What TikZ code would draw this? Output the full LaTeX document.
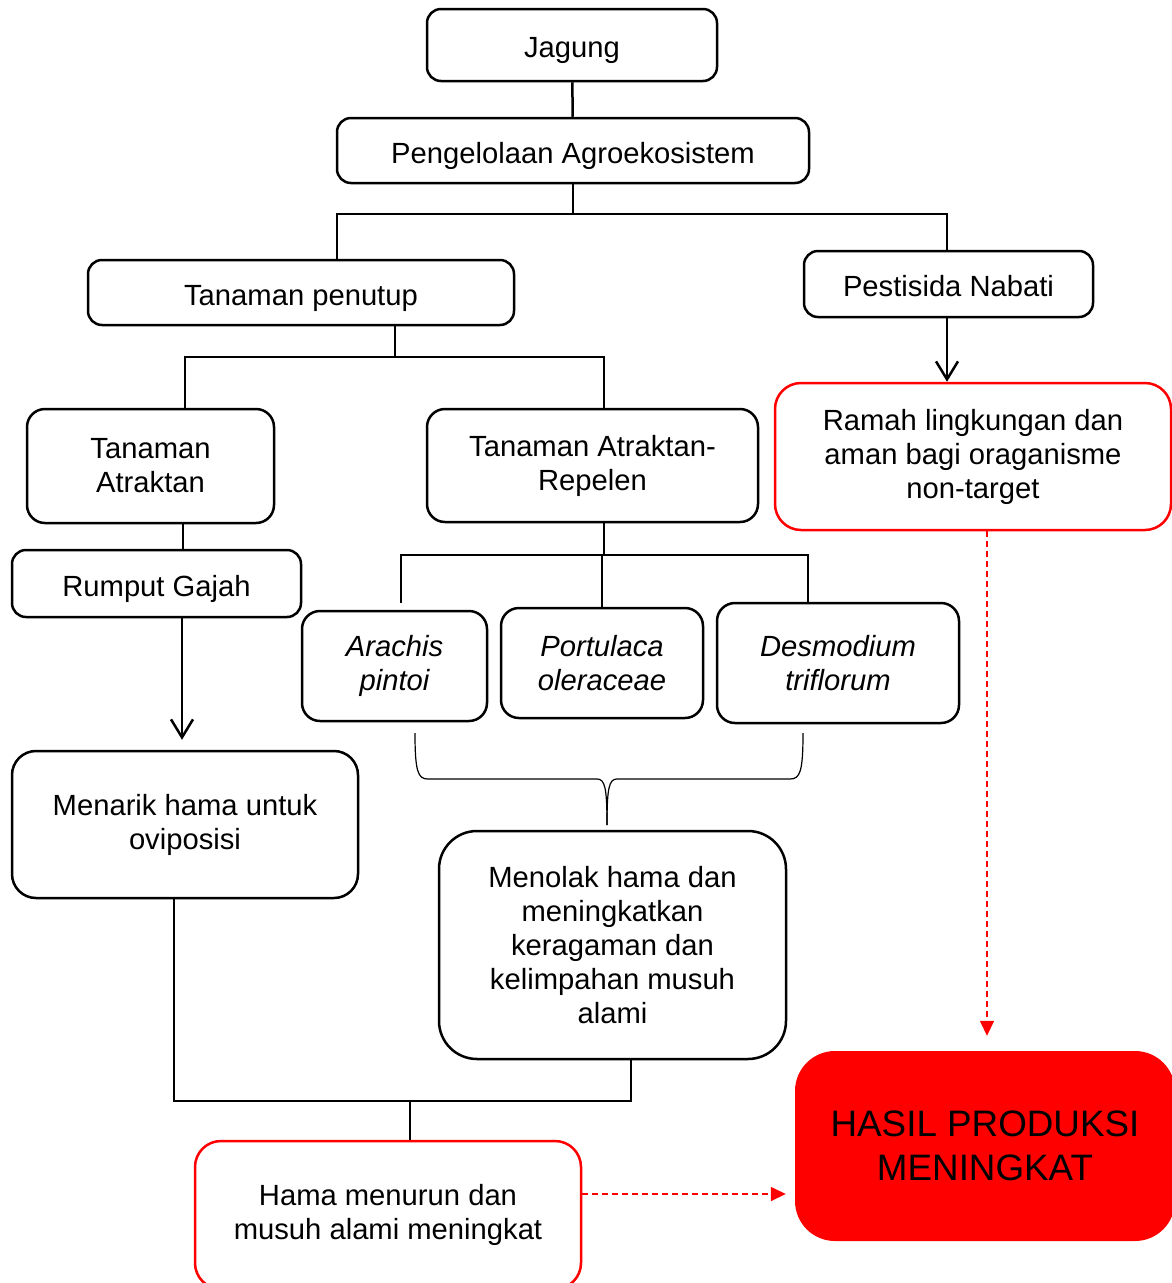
\documentclass[tikz,border=0pt]{standalone}
\usepackage{fontspec}
\setmainfont{Liberation Sans}
\usetikzlibrary{arrows.meta}

\begin{document}
\begin{tikzpicture}[
    x=1pt, y=-1pt,
    box/.style={rectangle, draw=black, line width=2.5pt, rounded corners=14pt, align=center, inner sep=0pt, font=\fontsize{29.2}{34}\selectfont},
    oneline/.style={text height=25pt, text depth=0pt},
    redbox/.style={box, draw=red},
    bigbox/.style={rectangle, fill=red, rounded corners=40pt, align=center, inner sep=0pt, font=\fontsize{36.8}{44}\selectfont},
    link/.style={line width=2.5pt},
    openarrow/.style={link, -{Straight Barb[length=18pt,width=22pt]}},
    redarrow/.style={draw=red, line width=1.5pt, dash pattern=on 6pt off 4pt, -{Triangle[length=15pt,width=14pt]}},
    bracket/.style={line width=1.2pt}
  ]

  \clip (0,0) rectangle (1172,1283);

  %Nodes
  \node[box, oneline, minimum width=290pt, minimum height=72pt] at (572,45) (jagung) {Jagung};
  \node[box, oneline, minimum width=472pt, minimum height=65pt] at (573,150.5) (peng) {Pengelolaan Agroekosistem};
  \node[box, oneline, minimum width=426pt, minimum height=65pt] at (301,292.5) (penutup) {Tanaman penutup};
  \node[box, oneline, minimum width=289pt, minimum height=66pt] at (948.5,284) (pestisida) {Pestisida Nabati};
  \node[redbox, rounded corners=26pt, minimum width=396pt, minimum height=147pt] at (973,456.5) (ramah) {Ramah lingkungan dan\\aman bagi oraganisme\\non-target};
  \node[box, rounded corners=18pt, minimum width=247pt, minimum height=114pt] at (150.5,466) (atraktan) {Tanaman\\Atraktan};
  \node[box, rounded corners=18pt, minimum width=331pt, minimum height=113pt] at (592.5,465.5) (repelen) {Tanaman Atraktan-\\Repelen};
  \node[box, oneline, minimum width=289pt, minimum height=67pt] at (156.5,583.5) (rumput) {Rumput Gajah};
  \node[box, rounded corners=18pt, minimum width=185pt, minimum height=110pt] at (394.5,666) (arachis) {\itshape Arachis\\\itshape pintoi};
  \node[box, rounded corners=18pt, minimum width=202pt, minimum height=110pt] at (602,663) (portulaca) {\itshape Portulaca\\\itshape oleraceae};
  \node[box, rounded corners=18pt, minimum width=242pt, minimum height=120pt] at (838,663) (desmodium) {\itshape Desmodium\\\itshape triflorum};
  \node[box, rounded corners=24pt, minimum width=346pt, minimum height=147pt] at (185,824.5) (menarik) {Menarik hama untuk\\oviposisi};
  \node[box, rounded corners=38pt, minimum width=347pt, minimum height=228pt] at (612.5,945) (menolak) {Menolak hama dan\\meningkatkan\\keragaman dan\\kelimpahan musuh\\alami};
  \node[redbox, rounded corners=26pt, minimum width=386pt, minimum height=148pt] at (388,1215) (hama) {Hama menurun dan\\musuh alami meningkat};
  \node[bigbox, minimum width=380pt, minimum height=190pt] at (985,1146) (hasil) {HASIL PRODUKSI\\MENINGKAT};

  %Junctions
  \coordinate (j1) at (573,214);
  \coordinate (j2) at (395,357);
  \coordinate (j3) at (604,555);
  \coordinate (j4) at (410,1101);
  \coordinate (tip) at (607,825);
  \coordinate (hr) at ([yshift=21pt]hama.east);

  %Lines
  \draw[link] (jagung) -- (peng);
  \draw[link] (peng.south) -- (j1);
  \draw[link] ([xshift=36pt]penutup.north) |- (j1) -| ([xshift=-1.5pt]pestisida.north);
  \draw[openarrow] ([xshift=-1.5pt]pestisida.south) -- ([xshift=-1.5pt]pestisida.south |- ramah.north);
  \draw[link] ([xshift=94pt]penutup.south) -- (j2);
  \draw[link] ([xshift=34.5pt]atraktan.north) |- (j2) -| ([xshift=11.5pt]repelen.north);
  \draw[link] ([xshift=32.5pt]atraktan.south) -- ([xshift=26.5pt]rumput.north);
  \draw[openarrow, shorten >=10pt] ([xshift=25.5pt]rumput.south) -- ([xshift=-3pt]menarik.north);
  \draw[link] ([xshift=11.5pt]repelen.south) -- (j3);
  \draw[link, shorten <=7pt] ([xshift=6.5pt]arachis.north) |- (j3) -| ([xshift=-30pt]desmodium.north);
  \draw[link] (j3 -| portulaca.north) -- (portulaca.north);
  \draw[bracket] (415,733) .. controls (415,772) and (418,779) .. (428,779) -- (597,779) .. controls (605,779) and (607,788) .. (tip);
  \draw[bracket] (803,733) .. controls (803,772) and (800,779) .. (790,779) -- (617,779) .. controls (609,779) and (607,788) .. (tip);
  \draw[link] ([xshift=-11pt]menarik.south) |- (j4) -| ([xshift=18.5pt]menolak.south);
  \draw[link] (j4) -- (j4 |- hama.north);
  \draw[redarrow, shorten >=15pt] ([xshift=14pt]ramah.south) -- ([xshift=2pt]hasil.north);
  \draw[redarrow, shorten >=9pt] (hr) -- (hr -| hasil.west);

\end{tikzpicture}
\end{document}
